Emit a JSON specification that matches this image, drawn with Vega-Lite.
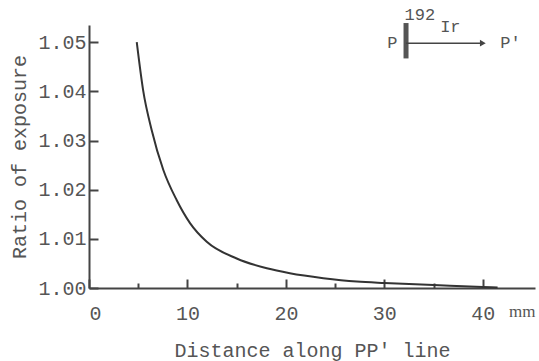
{
  "$schema": "https://vega.github.io/schema/vega-lite/v6.json",
  "width": 446,
  "height": 263,
  "autosize": {"type": "none"},
  "padding": {"left": 89, "top": 25, "right": 4, "bottom": 73},
  "background": "white",
  "config": {
    "view": {"stroke": null},
    "font": "Liberation Mono"
  },
  "layer": [
    {
      "data": {"values": [
        {"d": 4.85, "r": 1.0500},
        {"d": 5.5, "r": 1.0402},
        {"d": 6.37, "r": 1.0321},
        {"d": 7.55, "r": 1.0240},
        {"d": 8.9, "r": 1.0179},
        {"d": 10.26, "r": 1.0132},
        {"d": 11.96, "r": 1.0094},
        {"d": 15.0, "r": 1.0060},
        {"d": 18.06, "r": 1.0040},
        {"d": 20.4, "r": 1.0030},
        {"d": 23.8, "r": 1.0020},
        {"d": 27.2, "r": 1.0013},
        {"d": 30.0, "r": 1.0010},
        {"d": 35.0, "r": 1.0006},
        {"d": 40.0, "r": 1.0002},
        {"d": 41.5, "r": 1.0001}
      ]},
      "mark": {"type": "line", "interpolate": "monotone", "color": "#333", "strokeWidth": 2},
      "encoding": {
        "x": {
          "field": "d", "type": "quantitative",
          "scale": {"domain": [0, 45.3], "nice": false, "zero": false},
          "axis": {
            "title": "Distance along PP' line",
            "titleFont": "Liberation Mono", "titleFontSize": 20, "titleFontWeight": "normal", "titleColor": "#555",
            "titlePadding": 17,
            "values": [0, 5, 10, 15, 20, 25, 30, 35, 40],
            "labelExpr": "datum.value % 10 === 0 ? datum.label : ''",
            "labelFont": "Liberation Mono", "labelFontSize": 20, "labelColor": "#555",
            "labelPadding": 24,
            "grid": false,
            "domainColor": "#444", "domainWidth": 2,
            "tickColor": "#444", "tickWidth": 2,
            "tickSize": {"condition": {"test": "datum.value % 10 === 0", "value": -9}, "value": -5}
          }
        },
        "y": {
          "field": "r", "type": "quantitative",
          "scale": {"domain": [1.0, 1.0535], "nice": false, "zero": false},
          "axis": {
            "title": "Ratio of exposure",
            "titleFont": "Liberation Mono", "titleFontSize": 20, "titleFontWeight": "normal", "titleColor": "#555",
            "titlePadding": 8,
            "values": [1.0, 1.01, 1.02, 1.03, 1.04, 1.05],
            "format": ".2f",
            "labelFont": "Liberation Mono", "labelFontSize": 20, "labelColor": "#555",
            "labelPadding": 12,
            "grid": false,
            "domainColor": "#444", "domainWidth": 2,
            "tickColor": "#444", "tickWidth": 2,
            "tickSize": -9
          }
        }
      }
    },
    {
      "data": {"values": [{"t": "mm", "d": 44.0, "r": 0.99512}]},
      "mark": {"type": "text", "font": "Liberation Serif", "fontSize": 17, "color": "#555", "align": "center", "baseline": "middle"},
      "encoding": {
        "x": {"field": "d", "type": "quantitative"},
        "y": {"field": "r", "type": "quantitative"},
        "text": {"field": "t"}
      }
    },
    {
      "data": {"values": [{"t": "P", "d": 30.8, "r": 1.0498}, {"t": "P'", "d": 42.8, "r": 1.0498}, {"t": "Ir", "d": 36.7, "r": 1.0530}, {"t": "192", "d": 33.6, "r": 1.0555}]},
      "mark": {"type": "text", "font": "Liberation Mono", "fontSize": 17, "color": "#555", "align": "center", "baseline": "middle"},
      "encoding": {
        "x": {"field": "d", "type": "quantitative"},
        "y": {"field": "r", "type": "quantitative"},
        "text": {"field": "t"}
      }
    },
    {
      "data": {"values": [{"d": 32.2, "r": 1.0539, "r2": 1.0467}]},
      "mark": {"type": "rule", "color": "#555", "strokeWidth": 5},
      "encoding": {
        "x": {"field": "d", "type": "quantitative"},
        "y": {"field": "r", "type": "quantitative"},
        "y2": {"field": "r2"}
      }
    },
    {
      "data": {"values": [{"d": 32.2, "d2": 39.8, "r": 1.0498}]},
      "mark": {"type": "rule", "color": "#444", "strokeWidth": 1.5},
      "encoding": {
        "x": {"field": "d", "type": "quantitative"},
        "x2": {"field": "d2"},
        "y": {"field": "r", "type": "quantitative"}
      }
    },
    {
      "data": {"values": [{"d": 40.0, "r": 1.0498}]},
      "mark": {"type": "point", "shape": "triangle-right", "filled": true, "color": "#444", "size": 45, "opacity": 1},
      "encoding": {
        "x": {"field": "d", "type": "quantitative"},
        "y": {"field": "r", "type": "quantitative"}
      }
    }
  ]
}
